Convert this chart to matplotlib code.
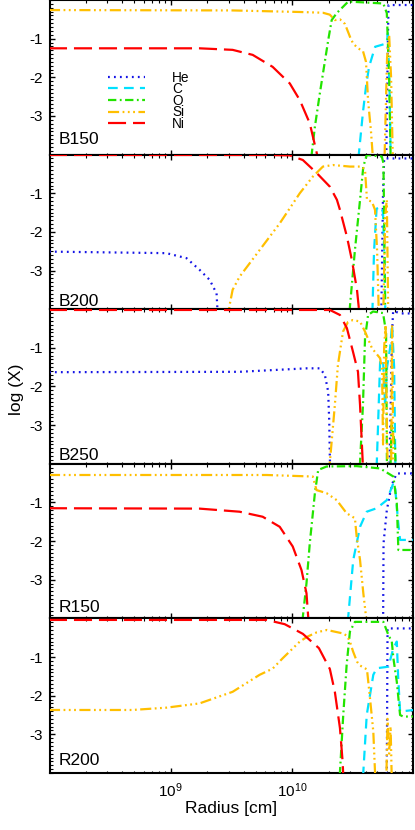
import numpy as np
import matplotlib
matplotlib.use('Agg')
import matplotlib.pyplot as plt
from matplotlib.ticker import MultipleLocator, LogLocator, NullFormatter

plt.rcParams['font.family'] = ['Liberation Sans', 'DejaVu Sans']
plt.rcParams['mathtext.default'] = 'regular'
plt.rcParams['axes.unicode_minus'] = False
plt.rcParams['lines.scale_dashes'] = False

# x values are log10(radius / cm), y values are log10 of the mass fraction
models = ['B150', 'B200', 'B250', 'R150', 'R200']
species = ['He', 'C', 'O', 'Si', 'Ni']

# --- B150
b150_he_x = [10.77, 10.785, 10.79, 11.0]
b150_he_y = [-4.5, -1.0, -0.13, -0.13]
b150_c_x = [10.53, 10.58, 10.605, 10.63, 10.68, 10.735, 10.775, 10.785, 10.80, 10.81]
b150_c_y = [-4.5, -2.9, -2.24, -1.73, -1.21, -1.16, -1.12, -0.86, -2.5, -4.5]
b150_o_x = [10.14, 10.185, 10.226, 10.295, 10.323, 10.364, 10.418, 10.459, 10.747, 10.776, 10.795, 10.81]
b150_o_y = [-4.5, -3.28, -2.41, -1.03, -0.52, -0.34, -0.17, -0.04, -0.09, -0.34, -2.0, -4.5]
b150_si_x = [8.0, 9.509, 10.061, 10.251, 10.308, 10.349, 10.391, 10.432, 10.473, 10.498, 10.539,
             10.580, 10.605, 10.622, 10.646, 10.671, 10.754, 10.778, 10.795, 10.811, 10.828]
b150_si_y = [-0.26, -0.27, -0.31, -0.33, -0.38, -0.52, -0.50, -0.62, -0.95, -1.12, -1.25,
             -1.32, -1.6, -2.6, -3.4, -4.5, -4.5, -1.5, -0.9, -2.0, -4.5]
b150_ni_x = [8.0, 9.237, 9.509, 9.674, 9.838, 9.979, 10.061, 10.143, 10.201, 10.226]
b150_ni_y = [-1.25, -1.25, -1.29, -1.42, -1.73, -2.16, -2.59, -3.19, -3.97, -4.5]

# --- B200
b200_he_x = [8.0, 8.965, 9.130, 9.237, 9.320, 9.377, 9.393, 10.729, 10.745, 10.754, 11.0]
b200_he_y = [-2.51, -2.55, -2.68, -2.98, -3.24, -3.59, -4.5, -4.5, -1.0, -0.1, -0.1]
b200_c_x = [10.654, 10.671, 10.692, 10.729, 10.745, 10.758, 10.766]
b200_c_y = [-4.5, -2.5, -1.4, -1.35, -1.5, -3.0, -4.5]
b200_o_x = [10.465, 10.473, 10.514, 10.556, 10.583, 10.611, 10.735, 10.748, 10.754, 10.762, 10.766]
b200_o_y = [-4.5, -3.93, -2.47, -1.17, -0.31, -0.01, -0.05, -0.22, -1.6, -3.93, -4.5]
b200_si_x = [9.459, 9.484, 9.509, 9.566, 9.731, 9.896, 10.061, 10.168, 10.251, 10.333, 10.473, 10.572,
             10.597, 10.613, 10.654, 10.679, 10.696, 10.708, 10.716, 10.745, 10.762, 10.776, 10.789]
b200_si_y = [-4.5, -3.9, -3.5, -3.16, -2.47, -1.78, -1.0, -0.57, -0.31, -0.27, -0.31, -0.31,
             -0.4, -1.17, -1.22, -1.43, -2.47, -3.85, -4.5, -4.5, -1.6, -1.17, -4.5]
b200_ni_x = [8.0, 9.789, 9.979, 10.086, 10.201, 10.308, 10.366, 10.391, 10.448, 10.489, 10.531, 10.547, 10.564]
b200_ni_y = [-0.01, -0.01, -0.02, -0.14, -0.48, -0.83, -1.17, -1.43, -2.12, -2.73, -3.5, -4.0, -4.5]

# --- B250
b250_he_x = [8.0, 9.566, 10.119, 10.226, 10.267, 10.294, 10.303, 10.308, 10.317,
             10.795, 10.811, 10.819, 10.828, 10.861, 10.885, 11.0]
b250_he_y = [-1.63, -1.62, -1.53, -1.53, -1.70, -2.13, -2.91, -3.86, -4.5,
             -4.5, -2.0, -0.6, -0.05, -0.08, -0.11, -0.11]
b250_c_x = [10.688, 10.704, 10.721, 10.745, 10.762, 10.778, 10.803, 10.819, 10.836, 10.848]
b250_c_y = [-4.5, -3.0, -1.36, -1.3, -2.5, -1.5, -1.0, -0.4, -1.5, -4.5]
b250_o_x = [10.547, 10.556, 10.580, 10.597, 10.622, 10.663, 10.745, 10.770, 10.778,
            10.803, 10.815, 10.828, 10.844, 10.852]
b250_o_y = [-4.5, -3.96, -2.48, -0.75, -0.15, -0.06, -0.1, -0.6, -4.5,
            -4.5, -3.0, -3.2, -3.6, -4.5]
b250_si_x = [10.304, 10.308, 10.349, 10.374, 10.416, 10.457, 10.498, 10.556, 10.597, 10.654, 10.721,
             10.737, 10.745, 10.754, 10.766, 10.778, 10.787, 10.811, 10.819, 10.832]
b250_si_y = [-4.5, -3.96, -2.48, -1.45, -0.58, -0.33, -0.28, -0.32, -0.58, -1.01, -1.27,
             -1.6, -3.5, -1.0, -0.4, -3.4, -4.5, -4.5, -0.4, -4.5]
b250_ni_x = [8.0, 10.308, 10.391, 10.448, 10.498, 10.539, 10.556, 10.578, 10.584]
b250_ni_y = [-0.02, -0.02, -0.15, -0.49, -1.1, -1.62, -2.48, -3.95, -4.5]

# --- R150
r150_he_x = [10.745, 10.749, 10.776, 10.803, 10.828, 10.858, 11.0]
r150_he_y = [-4.5, -2.06, -1.2, -0.76, -0.45, -0.25, -0.25]
r150_c_x = [10.448, 10.459, 10.500, 10.556, 10.611, 10.693, 10.776, 10.830, 10.844, 10.869, 10.885, 11.0]
r150_c_y = [-4.5, -3.96, -2.49, -1.63, -1.24, -1.15, -0.94, -0.5, -0.6, -1.5, -1.97, -1.97]
r150_o_x = [10.077, 10.086, 10.116, 10.143, 10.185, 10.212, 10.281, 10.528, 10.721, 10.830,
            10.858, 10.871, 11.0]
r150_o_y = [-4.5, -3.96, -3.09, -2.06, -0.76, -0.16, -0.07, -0.06, -0.12, -0.33,
            -1.02, -2.23, -2.23]
r150_si_x = [8.0, 9.789, 10.168, 10.198, 10.281, 10.364, 10.446, 10.514, 10.528, 10.556, 10.583, 10.605, 10.613]
r150_si_y = [-0.29, -0.29, -0.33, -0.68, -0.76, -0.94, -1.28, -1.41, -1.88, -2.49, -3.35, -3.95, -4.5]
r150_ni_x = [8.0, 9.237, 9.566, 9.756, 9.896, 10.003, 10.075, 10.116, 10.130, 10.135]
r150_ni_y = [-1.15, -1.16, -1.24, -1.37, -1.63, -2.14, -2.75, -3.35, -3.96, -4.5]

# --- R200
r200_he_x = [10.770, 10.776, 10.782, 11.0]
r200_he_y = [-4.5, -3.9, -0.26, -0.26]
r200_c_x = [10.576, 10.583, 10.611, 10.665, 10.693, 10.789, 10.830, 10.858, 10.869, 10.885, 11.0]
r200_c_y = [-4.5, -3.97, -2.5, -1.46, -1.29, -1.25, -0.77, -0.6, -1.5, -2.41, -2.37]
r200_o_x = [10.383, 10.391, 10.418, 10.446, 10.473, 10.514, 10.748, 10.789, 10.817, 10.830,
            10.858, 10.885, 10.910, 11.0]
r200_o_y = [-4.5, -3.97, -2.5, -1.2, -0.34, -0.09, -0.09, -0.43, -0.6, -1.03,
            -1.64, -2.5, -2.54, -2.54]
r200_si_x = [8.0, 8.684, 8.965, 9.237, 9.509, 9.731, 9.838, 9.921, 10.061, 10.119, 10.201, 10.284,
             10.416, 10.448, 10.473, 10.498, 10.531, 10.556, 10.613, 10.638, 10.665, 10.679, 10.688,
             10.770, 10.782, 10.795, 10.807, 10.819]
r200_si_y = [-2.37, -2.37, -2.31, -2.2, -1.9, -1.46, -1.3, -1.03, -0.6, -0.48, -0.36, -0.3,
             -0.39, -0.45, -0.6, -0.85, -1.12, -1.22, -1.32, -2.07, -2.93, -3.97, -4.5,
             -4.5, -2.6, -3.5, -2.8, -4.5]
r200_ni_x = [8.0, 9.789, 9.937, 10.086, 10.218, 10.308, 10.349, 10.391, 10.413, 10.424]
r200_ni_y = [-0.04, -0.04, -0.15, -0.40, -0.77, -1.31, -1.9, -2.84, -3.71, -4.5]

panels = [
    [(b150_he_x, b150_he_y), (b150_c_x, b150_c_y), (b150_o_x, b150_o_y), (b150_si_x, b150_si_y), (b150_ni_x, b150_ni_y)],
    [(b200_he_x, b200_he_y), (b200_c_x, b200_c_y), (b200_o_x, b200_o_y), (b200_si_x, b200_si_y), (b200_ni_x, b200_ni_y)],
    [(b250_he_x, b250_he_y), (b250_c_x, b250_c_y), (b250_o_x, b250_o_y), (b250_si_x, b250_si_y), (b250_ni_x, b250_ni_y)],
    [(r150_he_x, r150_he_y), (r150_c_x, r150_c_y), (r150_o_x, r150_o_y), (r150_si_x, r150_si_y), (r150_ni_x, r150_ni_y)],
    [(r200_he_x, r200_he_y), (r200_c_x, r200_c_y), (r200_o_x, r200_o_y), (r200_si_x, r200_si_y), (r200_ni_x, r200_ni_y)],
]

colors = ['#1414e6', '#00e1ff', '#22e400', '#ffbf00', '#ff0000']
# dash patterns in points
dashes = [(0, (1.3, 3.0)),
          (0, (7.0, 4.5)),
          (0, (6.0, 2.5, 1.3, 2.5)),
          (0, (8.0, 2.5, 1.3, 2.5, 1.3, 2.5, 1.3, 2.5)),
          (0, (13.0, 5.0))]
label_y = [0.069, 0.02, 0.025, 0.043, 0.052]

fig, axes = plt.subplots(5, 1, figsize=(4.15, 8.3), dpi=100, sharex=True)
fig.subplots_adjust(left=0.1205, right=0.9952, top=1.0, bottom=0.0687, hspace=0)

for i, ax in enumerate(axes):
    handles = []
    for j, (xs, ys) in enumerate(panels[i]):
        ln, = ax.plot(10 ** np.array(xs), ys, color=colors[j], linestyle=dashes[j],
                      lw=1.6, label=species[j], zorder=3)
        handles.append(ln)
    ax.set_xscale('log')
    ax.set_xlim(1.02e8, 9.8e10)
    ax.set_ylim(-4, 0)
    ax.set_yticks([-3, -2, -1])
    ax.yaxis.set_minor_locator(MultipleLocator(0.1))
    ax.xaxis.set_major_locator(LogLocator(base=10))
    ax.xaxis.set_minor_locator(LogLocator(base=10, subs=np.arange(2, 10)))
    ax.xaxis.set_minor_formatter(NullFormatter())
    ax.tick_params(which='both', direction='in', top=True, right=True, labelsize=11)
    ax.tick_params(which='major', length=3.6, width=1.0, pad=5)
    ax.tick_params(which='minor', length=1.8, width=0.8)
    ax.tick_params(axis='x', which='major', pad=6)
    for s in ax.spines.values():
        s.set_linewidth(1.5)
    ax.text(0.025, label_y[i], models[i], transform=ax.transAxes,
            fontsize=12.5, ha='left', va='baseline')
    if i == 0:
        ax.legend(handles=handles, loc='upper left', bbox_to_anchor=(0.161, 0.543),
                  frameon=False, borderpad=0, borderaxespad=0, fontsize=9.8,
                  handlelength=2.69, handletextpad=2.0, labelspacing=-0.18)

axes[-1].set_xlabel('Radius [cm]', fontsize=12.5, labelpad=1)
fig.text(16 / 415, 1 - 389 / 830, 'log (X)', rotation=90, ha='center', va='center', fontsize=12.5)

plt.savefig('out.png', dpi=100)
